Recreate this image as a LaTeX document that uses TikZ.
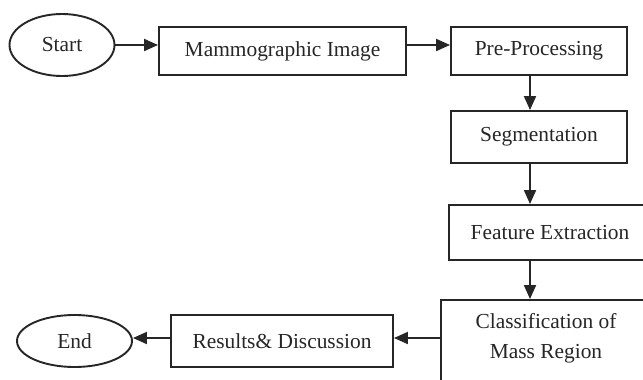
\documentclass[tikz,border=0pt]{standalone}
\usepackage{fontspec}
\setmainfont{Liberation Serif}
\usetikzlibrary{arrows.meta,shapes.geometric}
\definecolor{ink}{HTML}{262626}
\tikzset{
  x=1pt, y=-1pt,
  every node/.style={font=\fontsize{21.4}{30}\selectfont, text=ink},
  procbox/.style={draw=ink, line width=1.9pt, rectangle, inner sep=0pt, align=center},
  term/.style={draw=ink, line width=1.9pt, ellipse, inner sep=0pt},
  flow/.style={draw=ink, line width=1.9pt, -{Triangle[length=14pt,width=12pt]}}
}
\begin{document}
\begin{tikzpicture}
\useasboundingbox (0,0) rectangle (643,380);
\fill[white] (0,0) rectangle (643,380);
\clip (0,0) rectangle (643,380);

\node[term, minimum width=105pt, minimum height=62pt] (start) at (62,45) {Start};
\node[procbox, minimum width=247pt, minimum height=48pt] (mammo) at (282.5,51) {Mammographic Image};
\node[procbox, minimum width=176pt, minimum height=48pt] (pre) at (539,51) {Pre-Processing};
\node[procbox, minimum width=176pt, minimum height=52pt] (seg) at (539,137) {Segmentation};
\node[procbox, minimum width=202pt, minimum height=55pt] (feat) at (550,232.5) {Feature Extraction};
\node[procbox, minimum width=210pt, minimum height=92pt, text depth=20pt] (class) at (546,346) {Classification of\\Mass Region};
\node[procbox, minimum width=222pt, minimum height=52pt] (res) at (282,341) {Results\& Discussion};
\node[term, minimum width=115pt, minimum height=52pt] (end) at (74.5,341) {End};

\coordinate (vx) at (530,0);
\coordinate (hb) at (0,338);

\draw[flow] (start.east) -- (start.east -| mammo.west);
\draw[flow] (mammo.east |- start.east) -- (pre.west |- start.east);
\draw[flow] (pre.south -| vx) -- (seg.north -| vx);
\draw[flow] (seg.south -| vx) -- (feat.north -| vx);
\draw[flow] (feat.south -| vx) -- (class.north -| vx);
\draw[flow] (class.west |- hb) -- (res.east |- hb);
\draw[flow] (res.west |- hb) -- (end.east |- hb);
\end{tikzpicture}
\end{document}
